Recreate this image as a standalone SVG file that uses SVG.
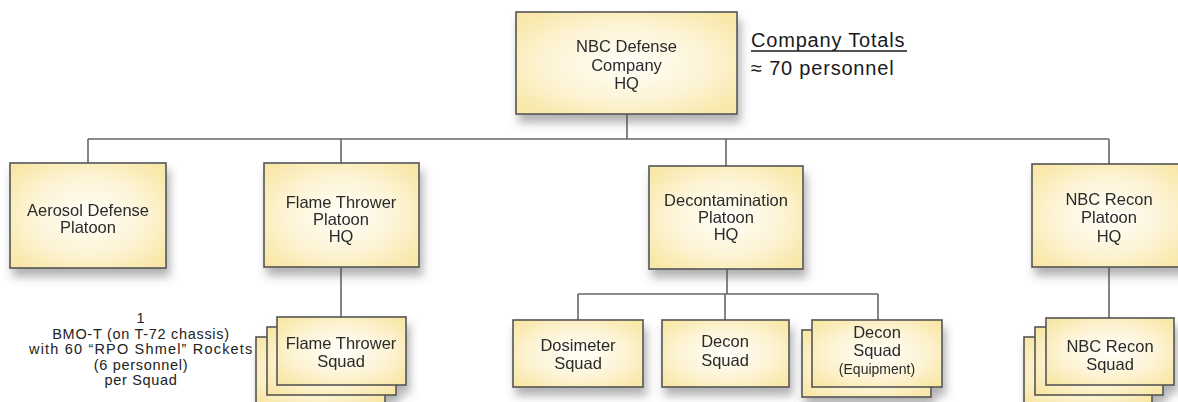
<svg xmlns="http://www.w3.org/2000/svg" width="1178" height="402" viewBox="0 0 1178 402">
<style>
  .box { fill: url(#yg); stroke: #555; stroke-width: 1.6; }
  .t { font-family: "Liberation Sans", Arial, sans-serif; font-size: 16.5px; fill: #2a2a2a; text-anchor: middle; }
  .small { font-size: 14px; }
  .note { font-family: "Liberation Sans", Arial, sans-serif; font-size: 14.5px; letter-spacing: 0.7px; fill: #222; text-anchor: middle; }
  .tot { font-family: "Liberation Sans", Arial, sans-serif; font-size: 20px; letter-spacing: 0.8px; fill: #1a1a1a; }
  .c { stroke: #666; stroke-width: 1.6; fill: none; }
</style>
<defs>
  <radialGradient id="yg" cx="50%" cy="50%" r="65%">
    <stop offset="0" stop-color="#fffef9"/>
    <stop offset="0.55" stop-color="#fdf4d6"/>
    <stop offset="1" stop-color="#f8e7a6"/>
  </radialGradient>
  <filter id="sh" x="-20%" y="-20%" width="150%" height="160%">
    <feDropShadow dx="3" dy="8" stdDeviation="5" flood-color="#555" flood-opacity="0.45"/>
  </filter>
</defs>
<rect width="1178" height="402" fill="#fff"/>

<g id="connectors">
  <line class="c" x1="627" y1="114" x2="627" y2="139"/>
  <line class="c" x1="88" y1="139" x2="1109" y2="139"/>
  <line class="c" x1="88" y1="139" x2="88" y2="163"/>
  <line class="c" x1="341" y1="139" x2="341" y2="163"/>
  <line class="c" x1="726" y1="139" x2="726" y2="166"/>
  <line class="c" x1="1109" y1="139" x2="1109" y2="164"/>
  <line class="c" x1="341" y1="267" x2="341" y2="317"/>
  <line class="c" x1="727" y1="269" x2="727" y2="294"/>
  <line class="c" x1="578" y1="294" x2="878" y2="294"/>
  <line class="c" x1="578" y1="294" x2="578" y2="320"/>
  <line class="c" x1="725" y1="294" x2="725" y2="320"/>
  <line class="c" x1="878" y1="294" x2="878" y2="320"/>
  <line class="c" x1="1109" y1="267" x2="1109" y2="318"/>
</g>

<g id="hq" filter="url(#sh)">
  <rect class="box" x="516" y="12" width="221" height="102"/>
  <text class="t" x="626.5" y="52">NBC Defense</text>
  <text class="t" x="626.5" y="71">Company</text>
  <text class="t" x="626.5" y="89">HQ</text>
</g>

<g id="totals">
  <text class="tot" x="751" y="47">Company Totals</text>
  <line x1="751" y1="51" x2="907" y2="51" stroke="#1a1a1a" stroke-width="1.4"/>
  <text class="tot" x="751" y="75">≈ 70 personnel</text>
</g>

<g id="aerosol" filter="url(#sh)">
  <rect class="box" x="10" y="163" width="156" height="105"/>
  <text class="t" x="88" y="216">Aerosol Defense</text>
  <text class="t" x="88" y="233">Platoon</text>
</g>

<g id="flameHQ" filter="url(#sh)">
  <rect class="box" x="264" y="163" width="155" height="104"/>
  <text class="t" x="341" y="208">Flame Thrower</text>
  <text class="t" x="341" y="225">Platoon</text>
  <text class="t" x="341" y="242">HQ</text>
</g>

<g id="deconHQ" filter="url(#sh)">
  <rect class="box" x="649" y="166" width="154" height="103"/>
  <text class="t" x="726" y="206">Decontamination</text>
  <text class="t" x="726" y="223">Platoon</text>
  <text class="t" x="726" y="240">HQ</text>
</g>

<g id="reconHQ" filter="url(#sh)">
  <rect class="box" x="1032" y="164" width="154" height="103"/>
  <text class="t" x="1109" y="205">NBC Recon</text>
  <text class="t" x="1109" y="223">Platoon</text>
  <text class="t" x="1109" y="242">HQ</text>
</g>

<g id="flameSquad" filter="url(#sh)">
  <rect class="box" x="256" y="337" width="129" height="68"/>
  <rect class="box" x="267" y="327" width="129" height="68"/>
  <rect class="box" x="277" y="317" width="129" height="68"/>
  <text class="t" x="341" y="349">Flame Thrower</text>
  <text class="t" x="341" y="367">Squad</text>
</g>

<g id="flameNote">
  <text class="note" x="141" y="323">1</text>
  <text class="note" x="141" y="338.5">BMO-T (on T-72 chassis)</text>
  <text class="note" x="141" y="354" textLength="224" lengthAdjust="spacing">with 60 “RPO Shmel” Rockets</text>
  <text class="note" x="141" y="369.5">(6 personnel)</text>
  <text class="note" x="141" y="385">per Squad</text>
</g>

<g id="dosimeter" filter="url(#sh)">
  <rect class="box" x="513" y="320" width="130" height="67"/>
  <text class="t" x="578" y="351">Dosimeter</text>
  <text class="t" x="578" y="369">Squad</text>
</g>

<g id="deconSquad" filter="url(#sh)">
  <rect class="box" x="662" y="320" width="127" height="67"/>
  <text class="t" x="725" y="347">Decon</text>
  <text class="t" x="725" y="366">Squad</text>
</g>

<g id="deconEquip" filter="url(#sh)">
  <rect class="box" x="802" y="330" width="129" height="67"/>
  <rect class="box" x="812" y="320" width="130" height="67"/>
  <text class="t" x="877" y="338">Decon</text>
  <text class="t" x="877" y="356">Squad</text>
  <text class="t small" x="877" y="374">(Equipment)</text>
</g>

<g id="reconSquad" filter="url(#sh)">
  <rect class="box" x="1024" y="337" width="128" height="68"/>
  <rect class="box" x="1035" y="327" width="128" height="68"/>
  <rect class="box" x="1046" y="318" width="128" height="67"/>
  <text class="t" x="1110" y="352">NBC Recon</text>
  <text class="t" x="1110" y="370">Squad</text>
</g>
</svg>
